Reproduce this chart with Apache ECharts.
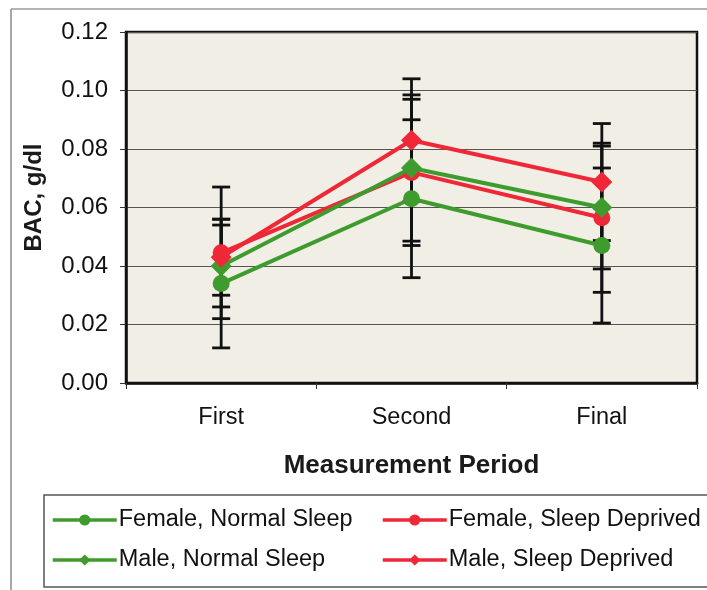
<!DOCTYPE html>
<html>
<head>
<meta charset="utf-8">
<script src="https://cdn.jsdelivr.net/npm/echarts@6/dist/echarts.min.js"></script>
<style>
  html, body { margin: 0; padding: 0; background: #fff; }
  #chart { width: 707px; height: 590px; }
</style>
</head>
<body>
<div id="chart"></div>
<script>
// Measurement periods on the x axis
const periods = ['First', 'Second', 'Final'];

// Mean BAC (g/dl) per group
const femaleNormal = [0.034, 0.063, 0.047];
const femaleDeprived = [0.0445, 0.072, 0.0565];
const maleNormal = [0.040, 0.0735, 0.060];
const maleDeprived = [0.043, 0.083, 0.0687];

// Error bar half-widths (g/dl) per group
const femaleNormalErr = [0.022, 0.027, 0.0265];
const femaleDeprivedErr = [0.0225, 0.025, 0.0255];
const maleNormalErr = [0.014, 0.025, 0.021];
const maleDeprivedErr = [0.013, 0.021, 0.020];

// Y axis ticks
const yTicks = [0, 0.02, 0.04, 0.06, 0.08, 0.10, 0.12];

const GREEN = '#3e9c2e';
const RED = '#ef2838';
const FONT = '"Liberation Sans", Arial, sans-serif';

const groups = [
  { name: 'Female, Normal Sleep', mean: femaleNormal, err: femaleNormalErr, color: GREEN, symbol: 'circle', size: 17 },
  { name: 'Female, Sleep Deprived', mean: femaleDeprived, err: femaleDeprivedErr, color: RED, symbol: 'circle', size: 17 },
  { name: 'Male, Normal Sleep', mean: maleNormal, err: maleNormalErr, color: GREEN, symbol: 'diamond', size: 21 },
  { name: 'Male, Sleep Deprived', mean: maleDeprived, err: maleDeprivedErr, color: RED, symbol: 'diamond', size: 21 }
];

// Error bars: vertical whisker with caps, drawn beneath the lines
const errorSeries = groups.map(g => ({
  type: 'custom',
  name: g.name + ' error',
  z: 1,
  silent: true,
  data: periods.map((p, i) => [i, g.mean[i] - g.err[i], g.mean[i] + g.err[i]]),
  renderItem: function (params, api) {
    const lo = api.coord([api.value(0), api.value(1)]);
    const hi = api.coord([api.value(0), api.value(2)]);
    const half = 9;
    const style = { stroke: '#111', lineWidth: 2.8 };
    return {
      type: 'group',
      children: [
        { type: 'line', shape: { x1: lo[0], y1: lo[1], x2: hi[0], y2: hi[1] }, style: style },
        { type: 'line', shape: { x1: lo[0] - half, y1: lo[1], x2: lo[0] + half, y2: lo[1] }, style: style },
        { type: 'line', shape: { x1: hi[0] - half, y1: hi[1], x2: hi[0] + half, y2: hi[1] }, style: style }
      ]
    };
  }
}));

const lineSeries = groups.map((g, k) => ({
  type: 'line',
  name: g.name,
  z: 2 + k,
  data: g.mean,
  symbol: g.symbol,
  symbolSize: g.size,
  showAllSymbol: true,
  lineStyle: { color: g.color, width: 4 },
  itemStyle: { color: g.color },
  emphasis: { disabled: true }
}));

const chart = echarts.init(document.getElementById('chart'), null, { renderer: 'canvas' });

const legendCommon = {
  orient: 'vertical',
  itemWidth: 64,
  itemHeight: 14,
  itemGap: 16,
  selectedMode: false,
  lineStyle: { width: 3.5 },
  textStyle: { fontFamily: FONT, fontSize: 23.5, color: '#111', padding: [0, 0, 0, -3] }
};

chart.setOption({
  animation: false,
  backgroundColor: '#fff',
  textStyle: { fontFamily: FONT },
  grid: {
    left: 126, right: 10, top: 32, bottom: 207,
    show: true,
    backgroundColor: '#f1eee5',
    borderColor: '#111',
    borderWidth: 2.5
  },
  xAxis: {
    type: 'category',
    data: periods,
    boundaryGap: true,
    axisLine: { lineStyle: { color: '#111', width: 2.5 } },
    axisTick: { show: true, length: 6, lineStyle: { color: '#333', width: 1 } },
    axisLabel: { fontFamily: FONT, fontSize: 23.5, color: '#111', margin: 23 },
    name: 'Measurement Period',
    nameLocation: 'middle',
    nameGap: 70,
    nameTextStyle: { fontFamily: FONT, fontSize: 26, fontWeight: 'bold', color: '#1a1a1a' }
  },
  yAxis: {
    type: 'value',
    min: yTicks[0],
    max: yTicks[yTicks.length - 1],
    interval: 0.02,
    axisLine: { show: true, lineStyle: { color: '#111', width: 2.5 } },
    axisTick: { show: true, length: 6, lineStyle: { color: '#333', width: 1 } },
    splitLine: { show: true, lineStyle: { color: '#555', width: 1.2 } },
    axisLabel: {
      fontFamily: FONT, fontSize: 24, color: '#111', margin: 18,
      formatter: v => v.toFixed(2)
    },
    name: 'BAC, g/dl',
    nameLocation: 'middle',
    nameGap: 80,
    nameTextStyle: { fontFamily: FONT, fontSize: 24, fontWeight: 'bold', color: '#1a1a1a', padding: [0, 0, 0, 20] }
  },
  legend: [
    Object.assign({}, legendCommon, {
      left: 46, top: 503,
      data: [groups[0].name, groups[2].name]
    }),
    Object.assign({}, legendCommon, {
      left: 376, top: 503,
      data: [groups[1].name, groups[3].name]
    })
  ],
  graphic: [
    { type: 'line', shape: { x1: 11, y1: 9, x2: 11, y2: 590 }, style: { stroke: '#8a8a8a', lineWidth: 1.5 }, silent: true },
    { type: 'line', shape: { x1: 11, y1: 9, x2: 707, y2: 9 }, style: { stroke: '#9a9a9a', lineWidth: 1.5 }, silent: true },
    { type: 'rect', shape: { x: 44, y: 495, width: 700, height: 92 }, style: { fill: 'none', stroke: '#555', lineWidth: 1.5 }, silent: true, z: -1 }
  ],
  series: errorSeries.concat(lineSeries)
});
</script>
</body>
</html>
